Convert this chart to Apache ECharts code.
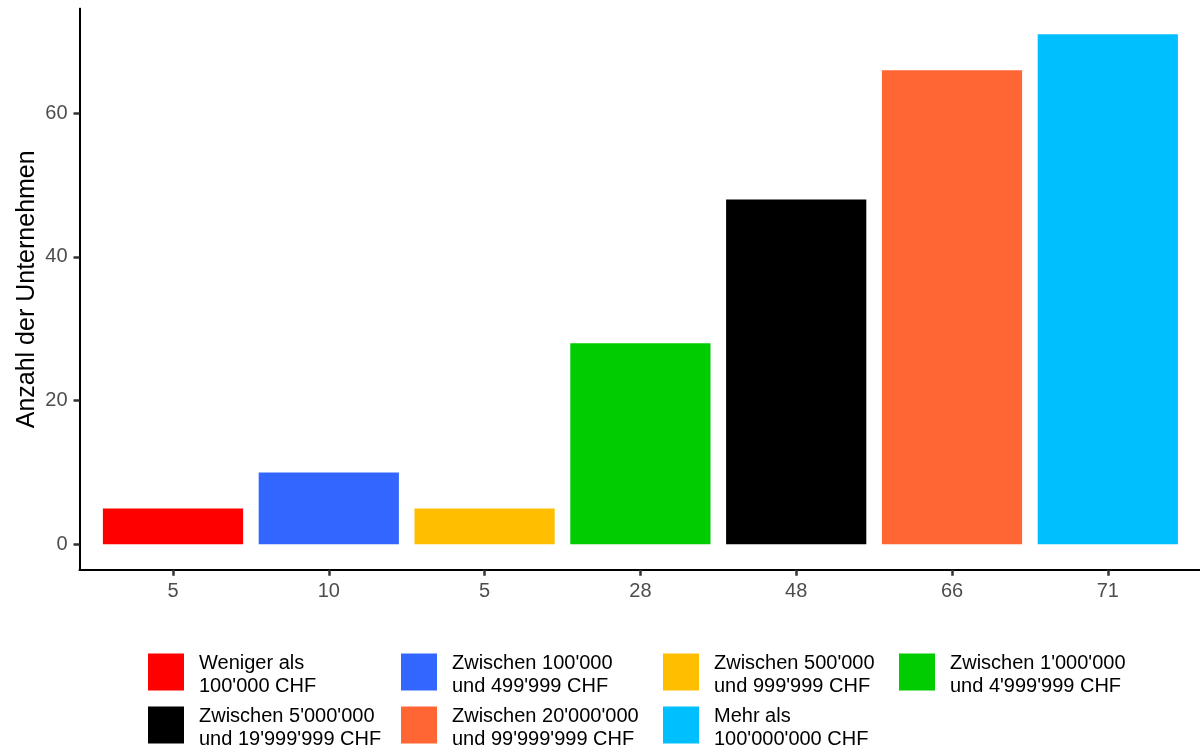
<!DOCTYPE html>
<html>
<head>
<meta charset="utf-8">
<script src="https://cdn.jsdelivr.net/npm/echarts@6/dist/echarts.min.js"></script>
<style>html,body{margin:0;padding:0;background:#fff;}#chart{width:1200px;height:751px;}</style>
</head>
<body>
<div id="chart"></div>
<script>
const categories = [
  "Weniger als\n100'000 CHF",
  "Zwischen 100'000\nund 499'999 CHF",
  "Zwischen 500'000\nund 999'999 CHF",
  "Zwischen 1'000'000\nund 4'999'999 CHF",
  "Zwischen 5'000'000\nund 19'999'999 CHF",
  "Zwischen 20'000'000\nund 99'999'999 CHF",
  "Mehr als\n100'000'000 CHF"
];
const counts = [5, 10, 5, 28, 48, 66, 71];
const colors = ['#FF0000', '#3366FF', '#FFBF00', '#00CC00', '#000000', '#FF6633', '#00BFFF'];
const yTicks = [0, 20, 40, 60];
const yTitle = 'Anzahl der Unternehmen';

const FONT = '"Liberation Sans", Arial, sans-serif';
// legend layout (4 columns, 2 rows)
const legendLeft = [148, 401, 663, 899, 148, 401, 663];
const legendTop = [647.5, 647.5, 647.5, 647.5, 700.5, 700.5, 700.5];

const yMin = -3.55, yMax = 74.55;
const PLOT_TOP = 8.8, PLOT_BOTTOM = 569.8;
const pxPerUnit = (PLOT_BOTTOM - PLOT_TOP) / (yMax - yMin);
const zeroY = PLOT_BOTTOM + yMin * pxPerUnit;

const chart = echarts.init(document.getElementById('chart'), null, {renderer: 'canvas'});

const series = categories.map((name, i) => ({
  name: name,
  type: 'bar',
  stack: 'all',
  xAxisIndex: 0,
  yAxisIndex: 0,
  barWidth: '90%',
  itemStyle: {color: colors[i]},
  data: counts.map((v, j) => (j === i ? v : '-'))
}));

const legendLineStyle = {fontFamily: FONT, fontSize: 20, lineHeight: 23, color: '#000', padding: [6, 0, 0, 0]};
const legends = categories.map((name, i) => ({
  data: [name],
  left: legendLeft[i],
  top: legendTop[i],
  padding: 0,
  orient: 'horizontal',
  itemWidth: 36,
  itemHeight: 37,
  icon: 'rect',
  selectedMode: false,
  formatter: (n) => n.split('\n').map((line) => '{t|' + line + '}').join('\n'),
  textStyle: {
    fontFamily: FONT, fontSize: 20, lineHeight: 23, color: '#000', padding: [0, 0, 0, 10],
    rich: {t: legendLineStyle}
  }
}));

const axisBlack = {color: '#000000', width: 2};
const tickStyle = {color: '#333333', width: 2.5};

chart.setOption({
  animation: false,
  backgroundColor: '#fff',
  textStyle: {fontFamily: FONT},
  grid: [
    {left: 95.1, width: 1090.6, top: PLOT_TOP, bottom: 751 - PLOT_BOTTOM, containLabel: false},
    {left: 79.5, width: 1121.8, top: PLOT_TOP, bottom: 751 - PLOT_BOTTOM, containLabel: false},
    {left: 79.5, width: 1121.8, top: PLOT_TOP, bottom: 751 - zeroY, containLabel: false}
  ],
  legend: legends,
  xAxis: [
    {
      type: 'category', gridIndex: 0, data: categories,
      axisLine: {show: true, onZero: false, lineStyle: axisBlack},
      axisTick: {show: true, length: 6, alignWithLabel: true, lineStyle: tickStyle},
      axisLabel: {
        interval: 0, margin: 12, fontSize: 20, color: '#4D4D4D', fontFamily: FONT,
        formatter: (value, index) => String(counts[index])
      },
      splitLine: {show: false}
    },
    {
      type: 'value', gridIndex: 1, min: 0, max: 1,
      axisLine: {show: true, onZero: false, lineStyle: axisBlack},
      axisTick: {show: false}, axisLabel: {show: false}, splitLine: {show: false}
    },
    {
      type: 'value', gridIndex: 2, min: 0, max: 1, show: false
    }
  ],
  yAxis: [
    {
      type: 'value', gridIndex: 0, min: yMin, max: yMax, show: false, splitLine: {show: false}
    },
    {
      type: 'value', gridIndex: 1, min: yMin, max: yMax,
      name: yTitle, nameLocation: 'middle', nameGap: 40, nameRotate: 90,
      nameTextStyle: {fontSize: 25, color: '#000', fontFamily: FONT},
      axisLine: {show: true, onZero: false, lineStyle: axisBlack},
      axisTick: {show: false}, axisLabel: {show: false},
      splitLine: {show: false}
    },
    {
      type: 'value', gridIndex: 2, min: 0, max: yMax, interval: 20,
      axisLine: {show: true, onZero: false, lineStyle: axisBlack},
      axisTick: {show: true, length: 6, lineStyle: tickStyle},
      axisLabel: {
        show: true, margin: 12, fontSize: 20, color: '#4D4D4D', fontFamily: FONT,
        showMaxLabel: false,
        formatter: (v) => (yTicks.indexOf(v) >= 0 ? String(v) : '')
      },
      splitLine: {show: false}
    }
  ],
  series: series
});
</script>
</body>
</html>
